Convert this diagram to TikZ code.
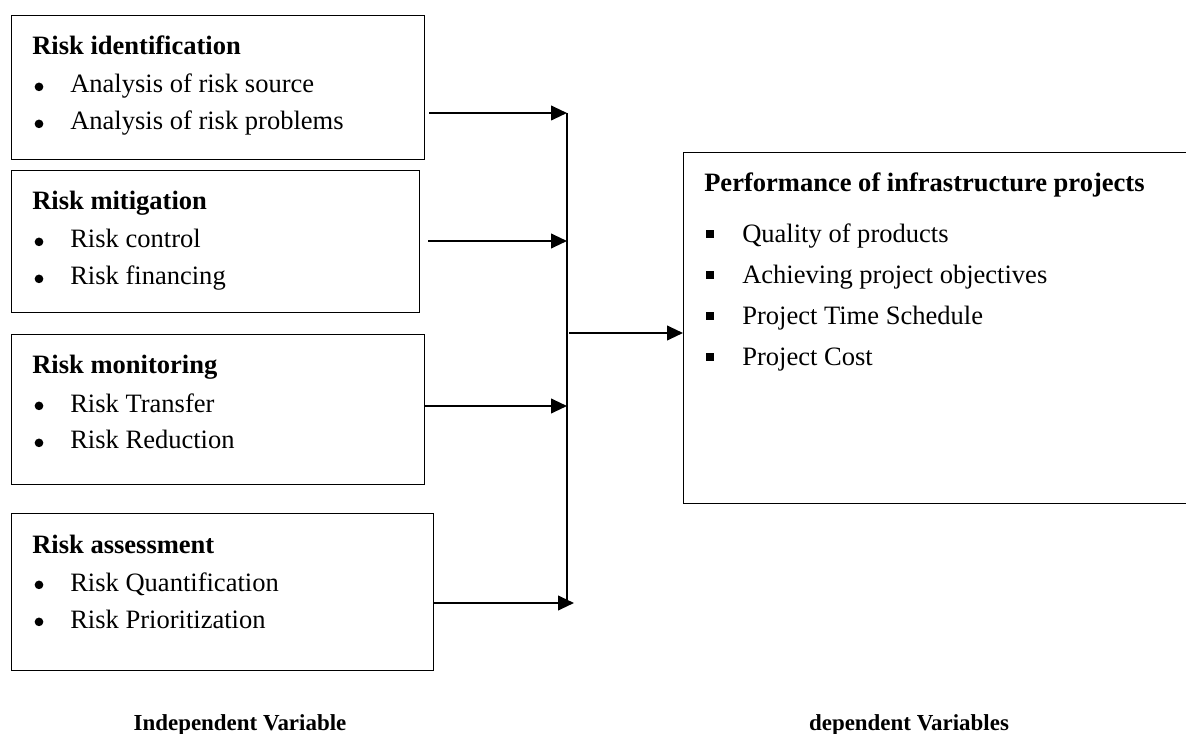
\documentclass[tikz,border=0pt]{standalone}
\usepackage{fontspec}
\setmainfont{Liberation Serif}
\usetikzlibrary{positioning,arrows.meta}

\tikzset{
  frame/.style 2 args={draw, line width=1.1pt, anchor=north west, inner sep=0pt,
                       minimum width=#1*0.75pt, minimum height=#2*0.75pt},
  head/.style={anchor=base west, inner sep=0pt, font=\fontsize{19.9}{24}\selectfont\bfseries},
  entry/.style={anchor=base west, inner sep=0pt, font=\fontsize{19.9}{24}\selectfont},
  dot/.style={circle, fill, inner sep=0pt, minimum size=6.5pt, yshift=4.6pt},
  sq/.style={fill, inner sep=0pt, minimum size=6pt, yshift=7pt},
  feed/.style={line width=1.5pt, -{Triangle[length=12pt,width=11pt]}},
  bus/.style={line width=1.2pt},
  legend/.style={anchor=base, inner sep=0pt, font=\fontsize{17.2}{20}\selectfont\bfseries}
}

\begin{document}
\begin{tikzpicture}[x=0.75pt, y=-0.75pt]
\useasboundingbox (0,0) rectangle (1186,734);

% independent variables
\node[frame={413}{144}] (idbox)  at (11,15)  {};
\node[frame={408}{142}] (mitbox) at (11,170) {};
\node[frame={413}{150}] (monbox) at (11,334) {};
\node[frame={422}{157}] (asbox)  at (11,513) {};

\node[head]  (idhead) at (32,55)  {Risk identification};
\node[dot]   (iddot1) at (39,93)  {};
\node[entry] (id1)    at (70,93)  {Analysis of risk source};
\node[dot]   (iddot2) at (39,130) {};
\node[entry] (id2)    at (70,130) {Analysis of risk problems};

\node[head]  (mithead) at (32,210) {Risk mitigation};
\node[dot]   (mitdot1) at (39,248) {};
\node[entry] (mit1)    at (70,248) {Risk control};
\node[dot]   (mitdot2) at (39,285) {};
\node[entry] (mit2)    at (70,285) {Risk financing};

\node[head]  (monhead) at (32,374) {Risk monitoring};
\node[dot]   (mondot1) at (39,412) {};
\node[entry] (mon1)    at (70,412) {Risk Transfer};
\node[dot]   (mondot2) at (39,449) {};
\node[entry] (mon2)    at (70,449) {Risk Reduction};

\node[head]  (ashead) at (32,553) {Risk assessment};
\node[dot]   (asdot1) at (39,591) {};
\node[entry] (as1)    at (70,591) {Risk Quantification};
\node[dot]   (asdot2) at (39,628) {};
\node[entry] (as2)    at (70,628) {Risk Prioritization};

% dependent variables
\node[frame={520}{351}] (perfbox) at (683,152) {};
\node[head]  (perfhead) at (704,192) {Performance of infrastructure projects};
\node[sq]    (perfsq1)  at (710,243) {};
\node[entry] (perf1)    at (742,243) {Quality of products};
\node[sq]    (perfsq2)  at (710,284) {};
\node[entry] (perf2)    at (742,284) {Achieving project objectives};
\node[sq]    (perfsq3)  at (710,325) {};
\node[entry] (perf3)    at (742,325) {Project Time Schedule};
\node[sq]    (perfsq4)  at (710,366) {};
\node[entry] (perf4)    at (742,366) {Project Cost};

% collector line and arrows
\coordinate (b1)  at (567,113);
\coordinate (b2)  at (567,241);
\coordinate (b3)  at (567,406);
\coordinate (b4)  at (574,603);
\coordinate (bmid) at (567,333);
\coordinate (bend) at (567,603);
\draw[bus] (b1) -- (bend);
\draw[feed] ([xshift=3pt]idbox.east |- b1) -- (b1);
\draw[feed] ([xshift=6pt]mitbox.east |- b2) -- (b2);
\draw[feed] (monbox.east |- b3) -- (b3);
\draw[feed] (asbox.east |- b4) -- (b4);
\draw[feed] ([xshift=1.5pt]bmid) -- (perfbox.west |- bmid);

\node[legend] (indep) at (240,730) {Independent Variable};
\node[legend] (dep)   at (909,730) {dependent Variables};
\end{tikzpicture}
\end{document}
